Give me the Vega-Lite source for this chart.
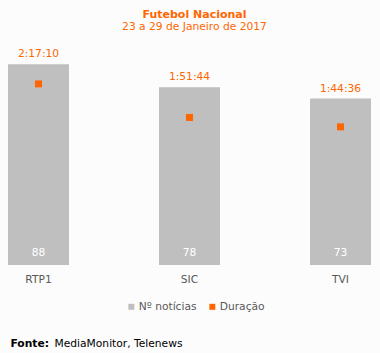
{
  "$schema": "https://vega.github.io/schema/vega-lite/v6.json",
  "width": 363,
  "height": 228,
  "autosize": "none",
  "padding": {"left": 8, "top": 37, "right": 9, "bottom": 88},
  "background": "#fcfcfc",
  "config": {"view": {"stroke": null}, "font": "DejaVu Sans"},
  "title": {
    "text": "Futebol Nacional",
    "subtitle": "23 a 29 de Janeiro de 2017",
    "anchor": "middle",
    "dx": 5,
    "offset": 5,
    "font": "DejaVu Sans",
    "fontSize": 11,
    "fontWeight": "bold",
    "color": "#ff6600",
    "subtitleFont": "DejaVu Sans",
    "subtitleFontSize": 10.7,
    "subtitleColor": "#ff6600",
    "subtitlePadding": 2
  },
  "data": {
    "values": [
      {"canal": "RTP1", "n": 88, "dur": 8230, "dur_label": "2:17:10"},
      {"canal": "SIC", "n": 78, "dur": 6704, "dur_label": "1:51:44"},
      {"canal": "TVI", "n": 73, "dur": 6276, "dur_label": "1:44:36"}
    ]
  },
  "encoding": {
    "x": {
      "field": "canal",
      "type": "nominal",
      "sort": null,
      "scale": {"paddingInner": 0.596, "paddingOuter": 0},
      "axis": {
        "labelAngle": 0,
        "ticks": false,
        "domain": false,
        "labelPadding": 9,
        "labelFont": "DejaVu Sans",
        "labelFontSize": 10.7,
        "labelColor": "#595959",
        "title": "Fonte:",
        "titleFont": "DejaVu Sans",
        "titleFontSize": 10.7,
        "titleFontWeight": "bold",
        "titleColor": "#000000",
        "titleX": 2,
        "titleY": 78,
        "titleAlign": "left",
        "titleBaseline": "middle",
        "titleAnchor": "start"
      }
    }
  },
  "layer": [
    {
      "layer": [
        {
          "mark": {"type": "bar"},
          "encoding": {
            "y": {"field": "n", "type": "quantitative", "scale": {"domain": [0, 100]}, "axis": null},
            "color": {
              "datum": "Nº notícias",
              "type": "nominal",
              "scale": {"domain": ["Nº notícias", "Duração"], "range": ["#bfbfbf", "#ff6600"]},
              "legend": {
                "orient": "none",
                "legendX": 118,
                "legendY": 264,
                "direction": "horizontal",
                "title": null,
                "symbolType": "square",
                "symbolSize": 36,
                "symbolStrokeWidth": 0,
                "labelFont": "DejaVu Sans",
                "labelFontSize": 10.7,
                "labelColor": "#595959",
                "labelOffset": 2,
                "columnPadding": 10
              }
            }
          }
        },
        {
          "mark": {"type": "text", "dy": -10, "color": "#ff6600", "fontSize": 10.7, "baseline": "middle", "font": "DejaVu Sans"},
          "encoding": {
            "y": {"field": "n", "type": "quantitative"},
            "text": {"field": "dur_label", "type": "nominal"}
          }
        },
        {
          "mark": {"type": "text", "dy": -12, "color": "#ffffff", "fontSize": 10.7, "baseline": "middle", "font": "DejaVu Sans"},
          "encoding": {
            "y": {"datum": 0, "type": "quantitative"},
            "text": {"field": "n", "type": "quantitative"}
          }
        }
      ]
    },
    {
      "mark": {"type": "point", "shape": "square", "filled": true, "size": 49, "opacity": 1},
      "encoding": {
        "x": {
          "field": "canal",
          "type": "nominal",
          "sort": null,
          "axis": {
            "orient": "bottom",
            "labels": false,
            "ticks": false,
            "domain": false,
            "title": "MediaMonitor, Telenews",
            "titleFont": "DejaVu Sans",
            "titleFontSize": 10.7,
            "titleFontWeight": "normal",
            "titleColor": "#000000",
            "titleX": 46,
            "titleY": 78,
            "titleAlign": "left",
            "titleBaseline": "middle",
            "titleAnchor": "start"
          }
        },
        "y": {"field": "dur", "type": "quantitative", "scale": {"domain": [0, 10360]}, "axis": null},
        "color": {"datum": "Duração", "type": "nominal"}
      }
    }
  ],
  "resolve": {"scale": {"y": "independent"}, "axis": {"x": "independent"}}
}
